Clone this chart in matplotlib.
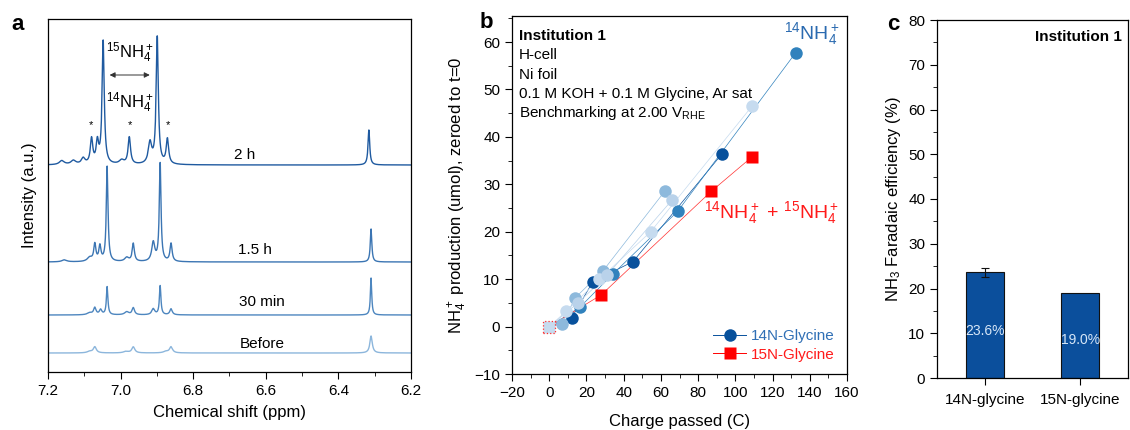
import numpy as np
import matplotlib
matplotlib.use("Agg")
import matplotlib.pyplot as plt
from matplotlib.ticker import MultipleLocator

plt.rcParams['font.family'] = ['Liberation Sans', 'DejaVu Sans']
plt.rcParams['mathtext.fontset'] = 'custom'
plt.rcParams['mathtext.rm'] = 'Liberation Sans'
plt.rcParams['mathtext.it'] = 'Liberation Sans:italic'
plt.rcParams['mathtext.bf'] = 'Liberation Sans:bold'

# ---------------- Panel a data: NMR spectra (peak lists) ----
spec_labels = ["2 h", "1.5 h", "30 min", "Before"]
spec_offsets = [207, 110, 57, 19]
spec_colors = ["#1f5aa0", "#3b75b3", "#4d86bf", "#8cb6dc"]
# peak positions (ppm), heights (a.u.), half widths (ppm)
peaks_2h_pos = [7.162, 7.130, 7.103, 7.080, 7.064, 7.048, 6.997, 6.976, 6.919, 6.899, 6.871, 6.316]
peaks_2h_h = [4, 4, 6, 25, 21, 123, 4, 27, 21, 127, 25, 35]
peaks_2h_w = [0.008, 0.008, 0.006, 0.004, 0.004, 0.0035, 0.008, 0.004, 0.0055, 0.0035, 0.004, 0.0028]
peaks_15h_pos = [7.155, 7.085, 7.071, 7.057, 7.037, 6.983, 6.965, 6.910, 6.891, 6.861, 6.310]
peaks_15h_h = [2, 4, 17, 15, 95, 4, 18, 19, 98, 18, 33]
peaks_15h_w = [0.008, 0.008, 0.0035, 0.0035, 0.0028, 0.007, 0.0035, 0.005, 0.0028, 0.0035, 0.0025]
peaks_30m_pos = [7.085, 7.071, 7.055, 7.037, 6.983, 6.965, 6.910, 6.891, 6.861, 6.310]
peaks_30m_h = [2, 7, 5, 28, 3, 7, 6, 29, 6, 37]
peaks_30m_w = [0.008, 0.004, 0.004, 0.0025, 0.007, 0.004, 0.005, 0.0025, 0.004, 0.0022]
peaks_bef_pos = [7.085, 7.071, 6.985, 6.965, 6.875, 6.861, 6.310]
peaks_bef_h = [1.5, 6, 1.5, 6, 1.5, 6, 17]
peaks_bef_w = [0.008, 0.005, 0.008, 0.005, 0.008, 0.005, 0.004]
spec_peaks = [
    (peaks_2h_pos, peaks_2h_h, peaks_2h_w),
    (peaks_15h_pos, peaks_15h_h, peaks_15h_w),
    (peaks_30m_pos, peaks_30m_h, peaks_30m_w),
    (peaks_bef_pos, peaks_bef_h, peaks_bef_w),
]

# ---------------- Panel b data ----------------
g14_colors = ["#08519c", "#3182bd", "#8db9dc", "#c6dbef", "#b9d2ea"]
g14_x = [
    [0, 12, 23.5, 45, 93],
    [0, 16.5, 34, 69, 132.5],
    [0, 7, 14, 29, 62],
    [0, 9, 27, 54.5, 109],
    [0, 15.5, 31, 66],
]
g14_y = [
    [0, 1.8, 9.5, 13.7, 36.5],
    [0, 4.1, 11, 24.3, 57.8],
    [0, 0.6, 6.1, 11.8, 28.5],
    [0, 3.2, 10, 20, 46.5],
    [0, 5, 10.8, 26.7],
]
g15_x = [0, 28, 87, 109]
g15_y = [0, 6.7, 28.5, 35.8]

# ---------------- Panel c data ----------------
fe_cats = ["14N-glycine", "15N-glycine"]
fe_vals = [23.6, 19.0]
fe_err = [1.0, 0.0]
fe_labels = ["23.6%", "19.0%"]

W, H = 1130, 430
fig = plt.figure(figsize=(W / 100, H / 100), dpi=100)


def ax_rect(l, t, r, b):
    return [l / W, 1 - b / H, (r - l) / W, (b - t) / H]


# ================= Panel a =================
axa = fig.add_axes(ax_rect(48, 19, 411, 372))
ppm = np.linspace(6.2, 7.2, 6000)
for (pos, hh, ww), off, col, lab in zip(spec_peaks, spec_offsets, spec_colors, spec_labels):
    y = np.full_like(ppm, float(off))
    for p, h, w in zip(pos, hh, ww):
        y += h * w ** 2 / ((ppm - p) ** 2 + w ** 2)
    axa.plot(ppm, y, color=col, lw=1.0)
axa.set_xlim(7.2, 6.2)
axa.set_ylim(0, 353)
axa.set_yticks([])
axa.xaxis.set_major_locator(MultipleLocator(0.2))
axa.xaxis.set_minor_locator(MultipleLocator(0.1))
axa.tick_params(axis='x', which='major', direction='out', length=5, labelsize=11)
axa.tick_params(axis='x', which='minor', direction='out', length=3)
axa.set_xlabel("Chemical shift (ppm)", fontsize=12, labelpad=5)
axa.set_ylabel("Intensity (a.u.)", fontsize=12, labelpad=8)
axa.xaxis.set_major_formatter(matplotlib.ticker.FormatStrFormatter('%.1f'))

label_pos = [(6.657, 217), (6.630, 122), (6.610, 70), (6.610, 28)]
for lab, (xx, yy) in zip(spec_labels, label_pos):
    axa.text(xx, yy, lab, fontsize=11, ha='center', va='center')

axa.text(6.974, 319, r"$^{15}$NH$_4^+$", fontsize=12, ha='center', va='center')
axa.text(6.974, 269, r"$^{14}$NH$_4^+$", fontsize=12, ha='center', va='center')
axa.annotate("", xy=(6.912, 297), xytext=(7.038, 297),
             arrowprops=dict(arrowstyle='<|-|>', color='#333333', lw=0.7,
                             mutation_scale=8))
for xs in [7.082, 6.974, 6.869]:
    axa.text(xs, 247, "*", fontsize=8, ha='center', va='center')

# ================= Panel b =================
axb = fig.add_axes(ax_rect(512, 16, 847, 374))
for xs, ys, col in zip(g14_x, g14_y, g14_colors):
    axb.plot(xs, ys, '-', color=col, lw=0.5, zorder=2)
    axb.plot(xs[1:], ys[1:], 'o', color=col, ms=9, mec='none', zorder=3)
axb.plot(g15_x, g15_y, '-', color='#ff3030', lw=0.5, zorder=2)
axb.plot(g15_x[1:], g15_y[1:], 's', color='#ff0000', ms=8.5, mec='none', zorder=3)
axb.scatter(g15_x[:1], g15_y[:1], marker='s', s=75, facecolor='#c6dbef',
            edgecolor='#ff3030', linestyle=':', linewidths=0.9, zorder=4)

axb.set_xlim(-20, 160)
axb.set_ylim(-10, 65.5)
axb.xaxis.set_major_locator(MultipleLocator(20))
axb.xaxis.set_minor_locator(MultipleLocator(10))
axb.yaxis.set_major_locator(MultipleLocator(10))
axb.yaxis.set_minor_locator(MultipleLocator(5))
axb.tick_params(which='major', direction='out', length=5, labelsize=11)
axb.tick_params(which='minor', direction='out', length=3)
axb.set_xlabel("Charge passed (C)", fontsize=12, labelpad=10)
axb.set_ylabel(r"NH$_4^+$ production (umol), zeroed to t=0", fontsize=12, labelpad=4)

info = ["Institution 1", "H-cell", "Ni foil", "0.1 M KOH + 0.1 M Glycine, Ar sat",
        r"Benchmarking at 2.00 V$_{\mathrm{RHE}}$"]
for i, s in enumerate(info):
    axb.text(0.02, 0.944 - i * 0.054, s, transform=axb.transAxes, fontsize=11,
             ha='left', va='center', fontweight='bold' if i == 0 else 'normal')

axb.text(0.895, 0.95, r"$^{14}$NH$_4^+$", transform=axb.transAxes, fontsize=14,
         color='#2a6ab0', ha='center', va='center')
axb.text(0.775, 0.45, r"$^{14}$NH$_4^+$ + $^{15}$NH$_4^+$", transform=axb.transAxes,
         fontsize=14, color='#ff1a1a', ha='center', va='center')

h1, = axb.plot([], [], '-o', color='#08519c', lw=0.7, ms=9, mec='none')
h2, = axb.plot([], [], '-s', color='#ff0000', lw=0.7, ms=8.5, mec='none')
leg = axb.legend([h1, h2], ["14N-Glycine", "15N-Glycine"], loc='lower right',
                 frameon=False, fontsize=11, handlelength=2.2, handletextpad=0.3,
                 borderaxespad=0.4, labelspacing=0.3)
for t, c in zip(leg.get_texts(), ['#2f6fb5', '#ff1a1a']):
    t.set_color(c)

# ================= Panel c =================
axc = fig.add_axes(ax_rect(937, 20, 1128, 378))
xpos = np.arange(len(fe_cats))
axc.bar(xpos, fe_vals, width=0.4, color='#0b4f9c', edgecolor='#111111', lw=0.8,
        yerr=[e if e > 0 else np.nan for e in fe_err], capsize=3,
        error_kw=dict(ecolor='#111111', elinewidth=0.8, capthick=0.8))
for xx, v, lab in zip(xpos, fe_vals, fe_labels):
    axc.text(xx, v * 0.42 + 0.6, lab, color='#d6e6f7', fontsize=10, ha='center', va='center')
axc.set_xlim(-0.5, 1.5)
axc.set_ylim(0, 80)
axc.set_xticks(xpos)
axc.set_xticklabels(fe_cats)
axc.yaxis.set_major_locator(MultipleLocator(10))
axc.yaxis.set_minor_locator(MultipleLocator(5))
axc.tick_params(which='major', direction='out', length=5, labelsize=11)
axc.tick_params(which='minor', direction='out', length=3)
axc.tick_params(axis='x', pad=6)
axc.set_ylabel(r"NH$_3$ Faradaic efficiency (%)", fontsize=12, labelpad=4)
axc.text(0.97, 0.953, "Institution 1", transform=axc.transAxes, fontsize=11,
         fontweight='bold', ha='right', va='center')

for ax in (axa, axb, axc):
    for sp in ax.spines.values():
        sp.set_linewidth(0.9)

# panel letters
fig.text(18 / W, 1 - 25 / H, "a", fontsize=16, fontweight='bold', ha='center', va='center')
fig.text(486 / W, 1 - 22 / H, "b", fontsize=16, fontweight='bold', ha='center', va='center')
fig.text(893 / W, 1 - 25 / H, "c", fontsize=16, fontweight='bold', ha='center', va='center')

fig.savefig("out.png", dpi=100)
